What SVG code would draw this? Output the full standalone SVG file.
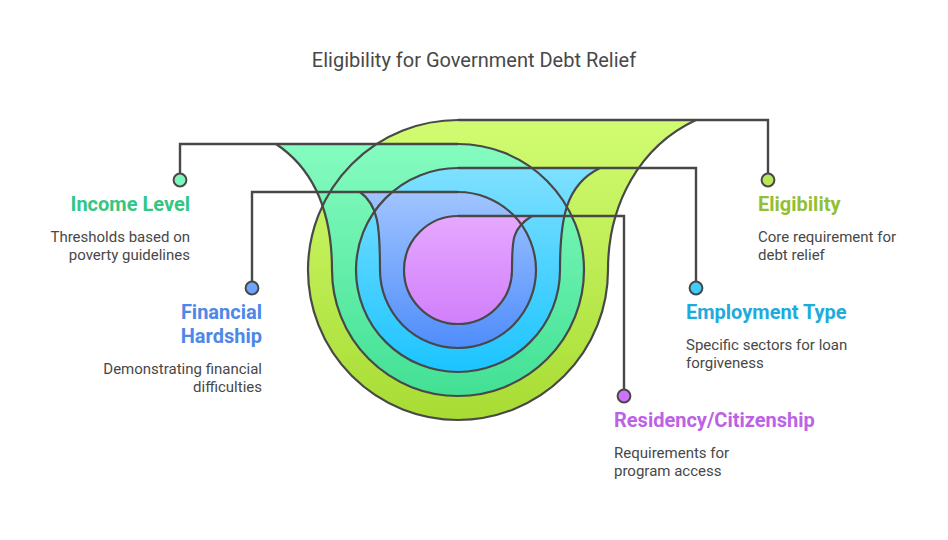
<svg xmlns="http://www.w3.org/2000/svg" width="948" height="540" viewBox="0 0 948 540">
<style>
text{font-family:Roboto,"Liberation Sans",sans-serif}
.t{font-size:20px;fill:#484848}
.h{font-size:20px;font-weight:700}
.b{font-size:15px;fill:#484848}
.e{text-anchor:end}
.o{fill:none;stroke:#484848;stroke-width:2.2;stroke-linejoin:round}
.l{fill:none;stroke:#484848;stroke-width:2.4}
.d{stroke:#484848;stroke-width:2}
</style>
<defs>
<linearGradient id="g1" gradientUnits="userSpaceOnUse" x1="0" y1="120" x2="0" y2="420"><stop offset="0" stop-color="#d1fc72"/><stop offset="1" stop-color="#a8dc33"/></linearGradient>
<linearGradient id="g2" gradientUnits="userSpaceOnUse" x1="0" y1="144" x2="0" y2="396"><stop offset="0" stop-color="#85fcc0"/><stop offset="1" stop-color="#42e094"/></linearGradient>
<linearGradient id="g3" gradientUnits="userSpaceOnUse" x1="0" y1="168" x2="0" y2="372"><stop offset="0" stop-color="#7ee0ff"/><stop offset="1" stop-color="#1cc4ff"/></linearGradient>
<linearGradient id="g4" gradientUnits="userSpaceOnUse" x1="0" y1="192" x2="0" y2="348"><stop offset="0" stop-color="#a0c4ff"/><stop offset="1" stop-color="#4f8dfb"/></linearGradient>
<linearGradient id="g5" gradientUnits="userSpaceOnUse" x1="0" y1="216" x2="0" y2="324"><stop offset="0" stop-color="#e6a8ff"/><stop offset="1" stop-color="#d17ffb"/></linearGradient>
<path id="p1" d="M696 120H458A150 150 0 0 0 308 270A150 150 0 0 0 608 270C608 204 640 146 696 120Z"/>
<path id="p2" d="M276 144H458A126 126 0 0 1 584 270A126 126 0 0 1 332 270C332 215 315 170 276 144Z"/>
<path id="p3" d="M600 168H458A102 102 0 0 0 356 270A102 102 0 0 0 560 270C560 220 565 185 600 168Z"/>
<path id="p4" d="M360 192H458A78 78 0 0 1 536 270A78 78 0 0 1 380 270C380 225 378 205 360 192Z"/>
<path id="p5" d="M532 216H458A54 54 0 0 0 404 270A54 54 0 0 0 512 270C512 240 512 228 532 216Z"/>
</defs>
<text class="t" x="474" y="67" text-anchor="middle">Eligibility for Government Debt Relief</text>
<g id="shapes">
<use href="#p1" fill="url(#g1)"/>
<use href="#p2" fill="url(#g2)"/>
<use href="#p3" fill="url(#g3)"/>
<use href="#p4" fill="url(#g4)"/>
<use href="#p5" fill="url(#g5)"/>
<use href="#p1" class="o"/>
<use href="#p2" class="o"/>
<use href="#p3" class="o"/>
<use href="#p4" class="o"/>
<use href="#p5" class="o"/>
</g>
<g id="connectors">
<path class="l" d="M458 120H768V174"/>
<path class="l" d="M458 144H180V174"/>
<path class="l" d="M458 168H696V282"/>
<path class="l" d="M458 192H252V282"/>
<path class="l" d="M458 216H624V390"/>
</g>
<g id="eligibility">
<circle class="d" cx="768" cy="180" r="6.4" fill="#b8e85a"/>
<text class="h" x="758" y="211" fill="#93bf35">Eligibility</text>
<text class="b" x="758" y="242">Core requirement for</text>
<text class="b" x="758" y="260">debt relief</text>
</g>
<g id="income">
<circle class="d" cx="180" cy="180" r="6.4" fill="#7ff5ba"/>
<text class="h e" x="190" y="211" fill="#35c684">Income Level</text>
<text class="b e" x="190" y="242">Thresholds based on</text>
<text class="b e" x="190" y="260">poverty guidelines</text>
</g>
<g id="employment">
<circle class="d" cx="696" cy="288" r="6.4" fill="#3fcdff"/>
<text class="h" x="686" y="319" fill="#1eabdc">Employment Type</text>
<text class="b" x="686" y="350">Specific sectors for loan</text>
<text class="b" x="686" y="368">forgiveness</text>
</g>
<g id="hardship">
<circle class="d" cx="252" cy="288" r="6.4" fill="#6ea4fd"/>
<text class="h e" x="262" y="319" fill="#4d88e8">Financial</text>
<text class="h e" x="262" y="343" fill="#4d88e8">Hardship</text>
<text class="b e" x="262" y="374">Demonstrating financial</text>
<text class="b e" x="262" y="392">difficulties</text>
</g>
<g id="residency">
<circle class="d" cx="624" cy="396" r="6.4" fill="#cf72fb"/>
<text class="h" x="614" y="427" fill="#bd62e6">Residency/Citizenship</text>
<text class="b" x="614" y="458">Requirements for</text>
<text class="b" x="614" y="476">program access</text>
</g>
</svg>
